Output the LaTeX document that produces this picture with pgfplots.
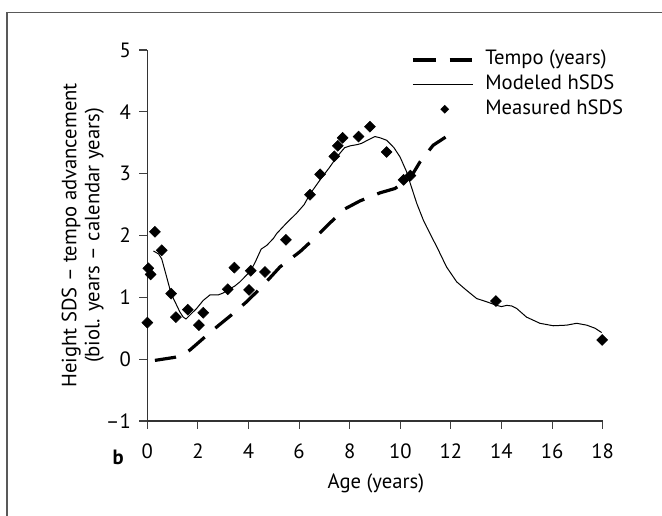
\documentclass[border=0pt]{standalone}
\usepackage{fontspec}
\setmainfont{PT Sans}
\usepackage{pgfplots}
\pgfplotsset{compat=1.18}
\pgfplotstableread{
x y
0.30 -0.02
1.09 0.03
1.45 0.08
1.69 0.15
2.28 0.36
2.74 0.52
3.40 0.74
3.93 0.93
4.50 1.16
5.24 1.49
6.04 1.74
6.70 1.99
7.16 2.18
7.81 2.43
8.41 2.56
9.20 2.69
9.79 2.76
10.38 2.92
10.78 3.19
11.30 3.46
11.90 3.62
}\tempo
\pgfplotstableread{
x y
0.24 1.75
0.45 1.70
0.57 1.62
0.75 1.35
0.94 1.06
1.15 0.88
1.29 0.76
1.42 0.68
1.53 0.65
1.70 0.72
1.95 0.82
2.21 0.95
2.48 1.04
2.81 1.04
3.00 1.07
3.18 1.12
3.45 1.18
3.66 1.25
3.90 1.35
4.09 1.43
4.30 1.60
4.50 1.78
4.72 1.84
4.98 1.95
5.11 2.03
5.50 2.20
5.90 2.36
6.20 2.50
6.43 2.67
6.83 2.90
7.20 3.10
7.49 3.27
7.80 3.42
8.02 3.45
8.30 3.47
8.47 3.49
8.75 3.55
9.00 3.60
9.20 3.58
9.46 3.54
9.75 3.42
9.99 3.27
10.25 3.03
10.38 2.86
10.65 2.52
10.91 2.25
11.04 2.14
11.30 1.93
11.44 1.82
11.83 1.49
12.23 1.25
12.60 1.12
13.02 0.98
13.40 0.93
13.81 0.87
14.00 0.85
14.21 0.87
14.40 0.86
14.60 0.82
14.99 0.68
15.52 0.58
16.05 0.54
16.58 0.55
16.97 0.58
17.37 0.55
17.70 0.50
17.96 0.43
}\modeled
\pgfplotstableread{
x y
0.00 0.59
0.04 1.47
0.13 1.37
0.30 2.06
0.57 1.76
0.94 1.06
1.13 0.68
1.60 0.80
2.04 0.55
2.21 0.75
3.18 1.13
3.44 1.48
4.02 1.12
4.09 1.43
4.65 1.41
5.48 1.93
6.43 2.66
6.83 2.99
7.39 3.28
7.53 3.45
7.72 3.58
8.35 3.60
8.80 3.76
9.46 3.35
10.13 2.90
10.40 2.97
13.78 0.94
17.98 0.31
}\measured
\begin{document}
\fontsize{15.5}{17.25}\selectfont
\begin{tikzpicture}
\useasboundingbox (0,0) rectangle (496.5pt,387pt);
\draw[line width=1.2pt, black!65] (5.25pt,0pt) -- (5.25pt,377.6pt) -- (496.5pt,377.6pt);
\begin{axis}[
  at={(110.5pt,71.25pt)}, anchor=south west,
  scale only axis, width=341.5pt, height=278.25pt,
  xmin=0, xmax=18, ymin=-1, ymax=5,
  clip=false,
  axis lines=left,
  axis line style={-, line width=0.8pt, black!80},
  xtick={0,2,...,18}, ytick={-1,0,...,5},
  xticklabels={0,2,4,6,8,10,12,14,16,18},
  yticklabels={–1,0,1,2,3,4,5},
  tick align=outside, major tick length=6pt,
  tick style={line width=0.8pt, black!75},
  font=\fontsize{15.5}{17.25}\selectfont,
  xticklabel style={yshift=-6pt},
  yticklabel style={xshift=-1pt},
  xlabel={Age (years)},
  xlabel style={at={(axis description cs:0.502,-0.167)}, anchor=center, inner sep=0pt},
  ylabel={Height SDS – tempo advancement\\(biol. years – calendar years)},
  ylabel style={align=center, at={(axis description cs:-0.095,0.5)}, anchor=south, inner sep=0pt},
  legend style={at={(0.579,1.0)}, anchor=north west, draw=none, fill=none,
    inner sep=0pt, row sep=4pt, column sep=9pt,
    nodes={inner sep=0pt, anchor=west, text height=11pt, text depth=3.5pt},
    font=\fontsize{15.5}{17.25}\selectfont},
  legend cell align=left,
]
\addplot[black, line width=2.4pt, dash pattern=on 16pt off 10.5pt,
  legend image code/.code={\draw[line width=2.4pt, dash pattern=on 17pt off 10.5pt] (0pt,0pt) -- (44pt,0pt);}]
  table[x=x,y=y] {\tempo};
\addlegendentry{Tempo (years)}
\addplot[black, line width=0.75pt,
  legend image code/.code={\draw[line width=0.75pt] (0pt,0pt) -- (45pt,0pt);}]
  table[x=x,y=y] {\modeled};
\addlegendentry{Modeled hSDS}
\addplot[only marks, black, mark=square*, mark size=2.9pt, mark options={rotate=45, fill=black},
  legend image code/.code={\path[draw=none,fill=none] (0pt,0pt) -- (45pt,0pt); \path[fill=black, draw=none] (24pt,3.3pt) -- (27.3pt,0pt) -- (24pt,-3.3pt) -- (20.7pt,0pt) -- cycle;}]
  table[x=x,y=y] {\measured};
\addlegendentry{Measured hSDS}
\node[font=\bfseries\fontsize{15.5}{17.25}\selectfont, anchor=center] at (axis description cs:-0.064,-0.097) {b};
\end{axis}
\end{tikzpicture}
\end{document}
